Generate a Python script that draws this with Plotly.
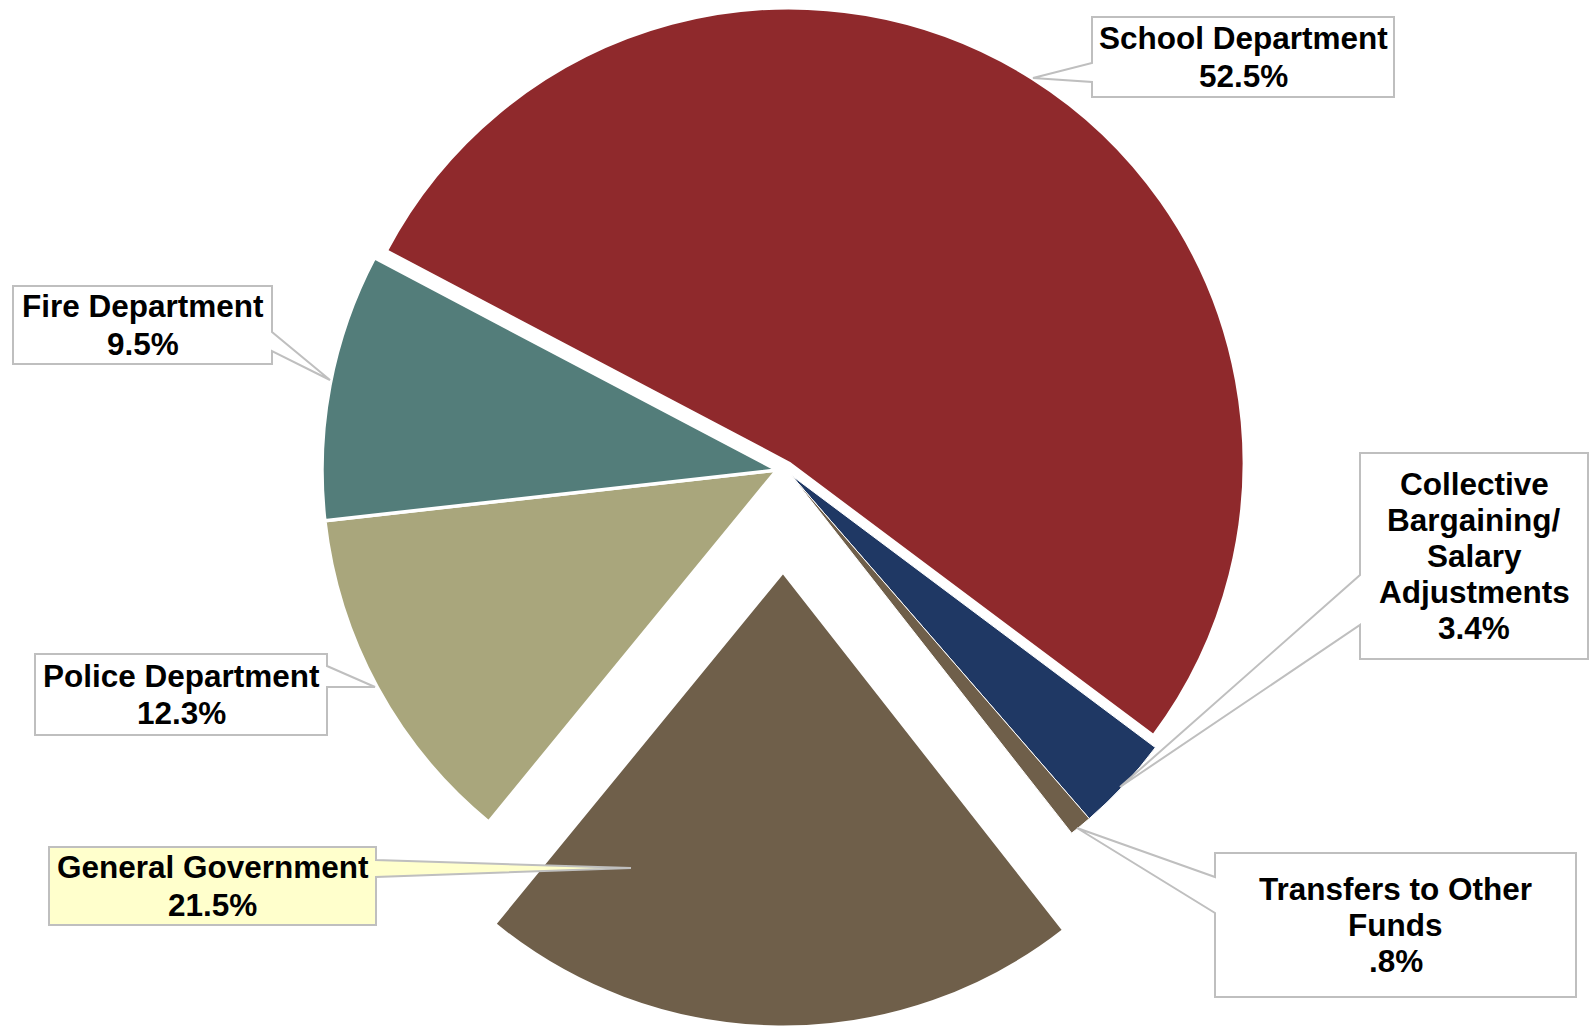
import plotly.graph_objects as go

W, H = 1596, 1027

# ---- data ----
categories = ["School Department", "Collective Bargaining/ Salary Adjustments",
              "Transfers to Other Funds", "General Government",
              "Police Department", "Fire Department"]
values = [52.5, 3.4, 0.8, 21.5, 12.3, 9.5]
label_lines = [["School Department"],
               ["Collective", "Bargaining/", "Salary", "Adjustments"],
               ["Transfers to Other", "Funds"],
               ["General Government"],
               ["Police Department"],
               ["Fire Department"]]
colors = ["#8F292C", "#1F3864", "#6F5F4A", "#6F5F4A", "#A9A67C", "#537D7A"]

# ---- layout helpers (pixel -> paper) ----
def X(px):
    return px / W

def Y(py):
    return 1 - py / H

R = 455
ROT = 297.8
# slice groups drawn as separate (exploded) pies: (indices, centre px, edge width)
groups = [
    ([0], (789, 463), 3),
    ([1, 2], (791, 475), 1),
    ([3], (783, 572), 3),
    ([4, 5], (777, 470), 3.5),
]

fig = go.Figure()
for idx, (cx, cy), lw in groups:
    cols = [colors[i] if i in idx else "rgba(0,0,0,0)" for i in range(len(values))]
    lcols = ["white" if i in idx else "rgba(0,0,0,0)" for i in range(len(values))]
    y0 = max(0.0, Y(cy + R))
    y1 = min(1.0, Y(cy - R))
    fig.add_trace(go.Pie(
        labels=categories, values=values, sort=False, direction="clockwise",
        rotation=ROT, textinfo="none", hoverinfo="skip", showlegend=False,
        marker=dict(colors=cols, line=dict(color=lcols, width=lw)),
        domain=dict(x=[X(cx - R), X(cx + R)], y=[y0, y1]),
    ))

def pct(v):
    s = f"{v:.1f}"
    if s.startswith("0"):
        s = s[1:]
    return s + "%"

# callout boxes: (x0, y0, x1, y1), outline polygon of box + leader, line spacing
callouts = [
    dict(i=0, box=(1092, 17, 1394, 97), fill="white", sp=37.5,
         pts=[(1092, 17), (1394, 17), (1394, 97), (1092, 97), (1092, 82), (1033, 78), (1092, 63)]),
    dict(i=1, box=(1360, 453, 1588, 659), fill="white", sp=36,
         pts=[(1360, 453), (1588, 453), (1588, 659), (1360, 659), (1360, 625), (1120, 787), (1360, 575)]),
    dict(i=2, box=(1215, 853, 1576, 997), fill="white", sp=36,
         pts=[(1215, 853), (1576, 853), (1576, 997), (1215, 997), (1215, 913), (1077, 828), (1215, 877)]),
    dict(i=3, box=(49, 847, 376, 925), fill="#FFFFCC", sp=37.5,
         pts=[(49, 847), (376, 847), (376, 860), (631, 868), (376, 877), (376, 925), (49, 925)]),
    dict(i=4, box=(35, 654, 327, 735), fill="white", sp=37.5,
         pts=[(35, 654), (327, 654), (327, 666), (375, 687), (327, 687), (327, 735), (35, 735)]),
    dict(i=5, box=(13, 286, 272, 364), fill="white", sp=37.5,
         pts=[(13, 286), (272, 286), (272, 332), (330, 380), (272, 351), (272, 364), (13, 364)]),
]

FONT = dict(family="Liberation Sans, Arial, sans-serif", size=31.5, color="black")

shapes = []
annotations = []
for c in callouts:
    path = "M " + " L ".join(f"{X(px):.5f},{Y(py):.5f}" for px, py in c["pts"]) + " Z"
    shapes.append(dict(type="path", xref="paper", yref="paper", path=path,
                       fillcolor=c["fill"], line=dict(color="#BFBFBF", width=2),
                       layer="above"))
    x0, y0, x1, y1 = c["box"]
    i = c["i"]
    lines = label_lines[i] + [pct(values[i])]
    n = len(lines)
    xc, yc = (x0 + x1) / 2, (y0 + y1) / 2
    for k, ln in enumerate(lines):
        ly = yc + (k - (n - 1) / 2) * c["sp"]
        annotations.append(dict(
            x=X(xc), y=Y(ly), xref="paper", yref="paper",
            xanchor="center", yanchor="middle", showarrow=False, align="center",
            text=f"<b>{ln}</b>", font=FONT,
        ))

fig.update_layout(
    width=W, height=H, autosize=False,
    margin=dict(l=0, r=0, t=0, b=0),
    paper_bgcolor="white", plot_bgcolor="white",
    shapes=shapes, annotations=annotations,
)

fig.write_html("out.html", config={"displayModeBar": False},
               post_script="document.body.style.margin='0px';")
